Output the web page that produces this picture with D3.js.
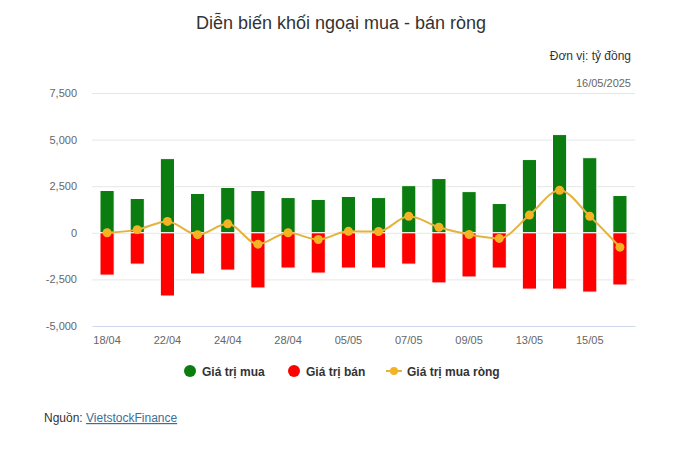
<!DOCTYPE html>
<html>
<head>
<meta charset="utf-8">
<script src="https://cdn.jsdelivr.net/npm/d3@7"></script>
<style>
  body { margin: 0; background: #fff; font-family: "Liberation Sans", Arial, sans-serif; }
  svg text { font-family: "Liberation Sans", Arial, sans-serif; }
</style>
</head>
<body>
<div id="chart"></div>
<script>
// Diễn biến khối ngoại mua - bán ròng

// Data
const dates = ['18/04', '21/04', '22/04', '23/04', '24/04', '25/04', '28/04', '29/04', '05/05',
    '06/05', '07/05', '08/05', '09/05', '12/05', '13/05', '14/05', '15/05', '16/05'];
const buyValues = [2270, 1840, 3980, 2110, 2430, 2270, 1890, 1790, 1950,
    1890, 2530, 2910, 2210, 1570, 3930, 5270, 4030, 2000];
const sellValues = [-2270, -1680, -3390, -2210, -2000, -2960, -1890, -2160, -1890,
    -1890, -1680, -2690, -2370, -1890, -3020, -3020, -3180, -2800];
const netValues = [0, 170, 610, -100, 480, -610, 0, -360, 80,
    70, 890, 300, -90, -300, 950, 2280, 890, -770];
const yTicks = [-5000, -2500, 0, 2500, 5000, 7500];

// Layout
const W = 689, H = 452;
const plot = { left: 92, right: 635, top: 93, bottom: 326 };

const svg = d3.select('#chart')
    .append('svg')
    .attr('width', W)
    .attr('height', H);

svg.append('rect').attr('width', W).attr('height', H).attr('fill', '#fff');

// Scales
const x = d3.scaleBand()
    .domain(dates)
    .range([plot.left, plot.right])
    .padding(0);

const y = d3.scaleLinear()
    .domain([-5000, 7500])
    .range([plot.bottom, plot.top]);

const barW = x.bandwidth() * 0.47;
const fmt = d => d3.format(',')(d).replace('\u2212', '-');

// Title and notes
svg.append('text')
    .attr('x', 341)
    .attr('y', 29)
    .attr('text-anchor', 'middle')
    .style('font-size', '18px')
    .style('fill', '#333')
    .text('Diễn biến khối ngoại mua - bán ròng');

svg.append('text')
    .attr('x', 631)
    .attr('y', 60)
    .attr('text-anchor', 'end')
    .style('font-size', '12px')
    .style('fill', '#333')
    .text('Đơn vị: tỷ đồng');

svg.append('text')
    .attr('x', 631)
    .attr('y', 87)
    .attr('text-anchor', 'end')
    .style('font-size', '11px')
    .style('fill', '#666')
    .text('16/05/2025');

// Gridlines
svg.append('g')
    .attr('class', 'grid')
    .attr('transform', `translate(${plot.left},0)`)
    .call(d3.axisLeft(y).tickValues(yTicks.filter(d => d !== -5000)).tickSize(-(plot.right - plot.left)).tickFormat(''))
    .call(g => g.select('.domain').remove())
    .call(g => g.selectAll('line').attr('stroke', '#e6e6e6'));

// Y axis labels
svg.append('g')
    .attr('transform', `translate(${plot.left - 15},0)`)
    .call(d3.axisLeft(y).tickValues(yTicks).tickSize(0).tickPadding(0).tickFormat(fmt))
    .call(g => g.select('.domain').remove())
    .call(g => g.selectAll('text').style('font-size', '11px').style('fill', '#666'));

// X axis
svg.append('g')
    .attr('transform', `translate(0,${plot.bottom})`)
    .call(d3.axisBottom(x).tickValues(dates.filter((d, i) => i % 2 === 0)).tickSize(0).tickPadding(10))
    .call(g => g.select('.domain').attr('stroke', '#ccd6eb'))
    .call(g => g.selectAll('text').style('font-size', '11px').style('fill', '#666'));

// Buy bars
svg.append('g')
    .selectAll('rect')
    .data(buyValues)
    .enter()
    .append('rect')
    .attr('x', (d, i) => x(dates[i]) + (x.bandwidth() - barW) / 2)
    .attr('y', d => y(d))
    .attr('width', barW)
    .attr('height', d => y(0) - y(d))
    .attr('fill', '#0b7d10')
    .attr('stroke', '#fff')
    .attr('stroke-width', 1);

// Sell bars
svg.append('g')
    .selectAll('rect')
    .data(sellValues)
    .enter()
    .append('rect')
    .attr('x', (d, i) => x(dates[i]) + (x.bandwidth() - barW) / 2)
    .attr('y', y(0))
    .attr('width', barW)
    .attr('height', d => y(d) - y(0))
    .attr('fill', '#ff0000')
    .attr('stroke', '#fff')
    .attr('stroke-width', 1);

// Net line
const cx = (d, i) => x(dates[i]) + x.bandwidth() / 2;
const line = d3.line()
    .x(cx)
    .y(d => y(d))
    .curve(d3.curveMonotoneX);

svg.append('path')
    .datum(netValues)
    .attr('d', line)
    .attr('fill', 'none')
    .attr('stroke', '#e4b33c')
    .attr('stroke-width', 2);

svg.append('g')
    .selectAll('circle')
    .data(netValues)
    .enter()
    .append('circle')
    .attr('cx', cx)
    .attr('cy', d => y(d))
    .attr('r', 4.5)
    .attr('fill', '#f5b324');

// Legend
const legend = svg.append('g').attr('transform', 'translate(0,371)');
const legendItems = [
    { label: 'Giá trị mua', color: '#0b7d10', type: 'dot', x: 190 },
    { label: 'Giá trị bán', color: '#ff0000', type: 'dot', x: 294 },
    { label: 'Giá trị mua ròng', color: '#f5b324', type: 'line', x: 394 }
];
legendItems.forEach(item => {
    if (item.type === 'dot') {
        legend.append('circle').attr('cx', item.x).attr('cy', 0).attr('r', 6).attr('fill', item.color);
    } else {
        legend.append('line').attr('x1', item.x - 8).attr('x2', item.x + 8)
            .attr('stroke', '#e4b33c').attr('stroke-width', 2);
        legend.append('circle').attr('cx', item.x).attr('cy', 0).attr('r', 4).attr('fill', item.color);
    }
    legend.append('text')
        .attr('x', item.x + (item.type === 'dot' ? 12 : 13))
        .attr('y', 4.5)
        .style('font-size', '12px')
        .style('font-weight', 'bold')
        .style('fill', '#333')
        .text(item.label);
});

// Source
const src = svg.append('text')
    .attr('x', 44)
    .attr('y', 422)
    .style('font-size', '12px')
    .style('fill', '#333');
src.append('tspan').text('Nguồn: ');
src.append('tspan')
    .style('fill', '#3d6f96')
    .style('text-decoration', 'underline')
    .text('VietstockFinance');
</script>
</body>
</html>
